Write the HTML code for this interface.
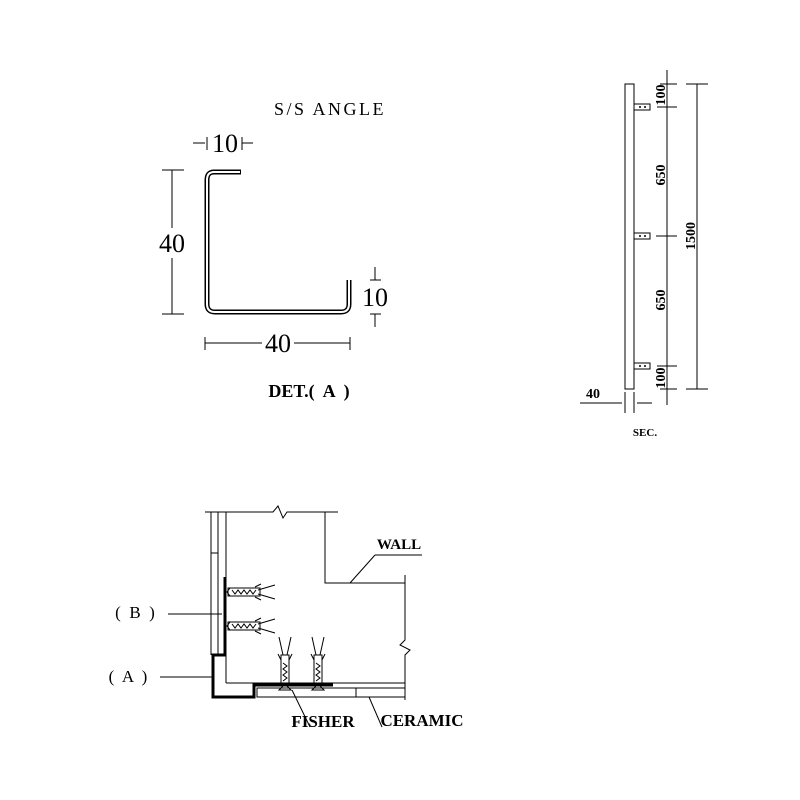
<!DOCTYPE html>
<html><head><style>body{margin:0;background:#fff}svg{display:block}text{font-family:"Liberation Serif",serif;font-weight:bold;fill:#000}.n{font-weight:normal}</style></head>
<body>
<svg width="800" height="800" viewBox="0 0 800 800" xmlns="http://www.w3.org/2000/svg">
<rect width="800" height="800" fill="#fff"/>
<g stroke="#000" fill="none">
<path d="M241,172 H214 Q207,172 207,180 V304 Q207,312 215,312 H341 Q349,312 349,304 V280" stroke-width="5"/>
<path d="M241,172 H214 Q207,172 207,180 V304 Q207,312 215,312 H341 Q349,312 349,304 V280" stroke="#fff" stroke-width="2"/>
<line x1="240.5" y1="170" x2="240.5" y2="174" stroke-width="1"/>
<g stroke-width="1">
<line x1="172" y1="170" x2="172" y2="228"/><line x1="172" y1="258" x2="172" y2="314"/>
<line x1="162" y1="170" x2="184" y2="170"/><line x1="162" y1="314" x2="184" y2="314"/>
<line x1="193" y1="143" x2="205" y2="143"/><line x1="207" y1="137" x2="207" y2="150"/>
<line x1="242" y1="137" x2="242" y2="150"/><line x1="242" y1="143" x2="253" y2="143"/>
<line x1="205" y1="337" x2="205" y2="350"/><line x1="350" y1="337" x2="350" y2="350"/>
<line x1="205" y1="343" x2="262" y2="343"/><line x1="294" y1="343" x2="350" y2="343"/>
<line x1="375" y1="267" x2="375" y2="280"/><line x1="370" y1="280" x2="381" y2="280"/>
<line x1="370" y1="314" x2="381" y2="314"/><line x1="375" y1="314" x2="375" y2="327"/>
</g>
</g>
<text x="330" y="115" font-size="18" text-anchor="middle" class="n" letter-spacing="2.5">S/S ANGLE</text>
<text x="225" y="152" font-size="26" text-anchor="middle" class="n">10</text>
<text x="172" y="252" font-size="26" text-anchor="middle" class="n">40</text>
<text x="375" y="306" font-size="26" text-anchor="middle" class="n">10</text>
<text x="278" y="352" font-size="26" text-anchor="middle" class="n">40</text>
<text x="309" y="397" font-size="18" text-anchor="middle" xml:space="preserve">DET.(  A  )</text>

<g stroke="#000" fill="none" stroke-width="1">
<rect x="625" y="84" width="9" height="305"/>
<rect x="634" y="104" width="16" height="6"/><rect x="634" y="233" width="16" height="6"/><rect x="634" y="363" width="16" height="6"/>
<line x1="667" y1="70" x2="667" y2="405"/>
<line x1="660" y1="84" x2="677" y2="84"/><line x1="657" y1="107" x2="677" y2="107"/>
<line x1="656" y1="236" x2="677" y2="236"/><line x1="657" y1="366" x2="677" y2="366"/>
<line x1="660" y1="389" x2="677" y2="389"/>
<line x1="697" y1="84" x2="697" y2="389"/><line x1="686" y1="84" x2="708" y2="84"/><line x1="686" y1="389" x2="708" y2="389"/>
<line x1="580" y1="403" x2="622" y2="403"/><line x1="637" y1="403" x2="652" y2="403"/>
<line x1="625" y1="392" x2="625" y2="413"/><line x1="634" y1="392" x2="634" y2="413"/>
</g>
<g fill="#000"><circle cx="640" cy="107" r="1"/><circle cx="645" cy="107" r="1"/><circle cx="640" cy="236" r="1"/><circle cx="645" cy="236" r="1"/><circle cx="640" cy="366" r="1"/><circle cx="645" cy="366" r="1"/></g>
<g font-size="14">
<text transform="translate(665,95) rotate(-90)" text-anchor="middle">100</text>
<text transform="translate(665,175) rotate(-90)" text-anchor="middle">650</text>
<text transform="translate(695,236) rotate(-90)" text-anchor="middle">1500</text>
<text transform="translate(665,300) rotate(-90)" text-anchor="middle">650</text>
<text transform="translate(665,378) rotate(-90)" text-anchor="middle">100</text>
<text x="593" y="398" text-anchor="middle">40</text>
<text x="645" y="436" text-anchor="middle" font-size="11">SEC.</text>
</g>

<g stroke="#000" fill="none" stroke-width="1">
<polyline points="205,512 273,512 278,506 283,518 287,512 338,512"/>
<polyline points="325,512 325,583 405,583"/>
<polyline points="405,575 405,640 400,645 410,650 405,655 405,700"/>
<line x1="226" y1="512" x2="226" y2="683"/><line x1="226" y1="683" x2="405" y2="683"/>
<line x1="211" y1="512" x2="211" y2="655"/><line x1="218" y1="512" x2="218" y2="655"/>
<line x1="211" y1="553" x2="218" y2="553"/>
<rect x="257" y="688" width="148" height="9"/><line x1="356" y1="688" x2="356" y2="697"/>
<path d="M225,577 V655 H213 V697 H254 V685 H333" stroke-width="3"/>
<line x1="350" y1="583" x2="375" y2="555"/><line x1="375" y1="555" x2="422" y2="555"/>
<line x1="168" y1="614" x2="222" y2="614"/>
<line x1="160" y1="677" x2="212" y2="677"/>
<line x1="292" y1="690" x2="310" y2="727"/>
<line x1="369" y1="697" x2="382" y2="727"/>
<rect x="228" y="588" width="32" height="8"/><path d="M230,588 l-3,4 3,4"/><path d="M258,590 L275,585 M258,594 L275,599 M255,587 l6,-3 M255,597 l6,3"/>
<rect x="228" y="622" width="32" height="8"/><path d="M230,622 l-3,4 3,4"/><path d="M258,624 L275,619 M258,628 L275,633 M255,621 l6,-3 M255,631 l6,3"/>
<rect x="281" y="655" width="8" height="30"/><path d="M283,655 L279,637 M287,655 L291,637 M281,660 l-3,-6 M289,660 l3,-6"/><path d="M279,690 l6,-6 6,6z"/>
<rect x="314" y="655" width="8" height="30"/><path d="M316,655 L312,637 M320,655 L324,637 M314,660 l-3,-6 M322,660 l3,-6"/><path d="M312,690 l6,-6 6,6z"/>
</g>
<g stroke="#000" stroke-width="1" fill="none">
<path d="M232,590 l3,4 3,-4 3,4 3,-4 3,4 3,-4 3,4 3,-4"/><path d="M232,624 l3,4 3,-4 3,4 3,-4 3,4 3,-4 3,4 3,-4"/>
<path d="M283,663 l4,3 -4,3 4,3 -4,3 4,3 -4,3"/><path d="M316,663 l4,3 -4,3 4,3 -4,3 4,3 -4,3"/>
</g>
<text x="399" y="549" text-anchor="middle" font-size="15">WALL</text>
<text x="135" y="618" text-anchor="middle" class="n" font-size="17" xml:space="preserve">(  B  )</text>
<text x="128" y="682" text-anchor="middle" class="n" font-size="17" xml:space="preserve">(  A  )</text>
<text x="323" y="727" text-anchor="middle" font-size="17">FISHER</text>
<text x="422" y="726" text-anchor="middle" font-size="17">CERAMIC</text>
</svg>
</body></html>
